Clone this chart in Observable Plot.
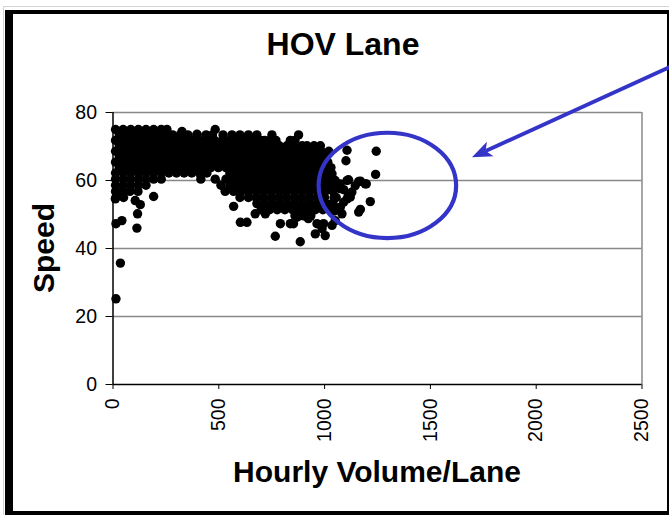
<!DOCTYPE html>
<html>
<head>
<meta charset="utf-8">
<script src="https://cdn.jsdelivr.net/npm/d3@7"></script>
<script src="https://cdn.jsdelivr.net/npm/@observablehq/plot@0.6"></script>
<style>
  html, body { margin: 0; padding: 0; background: #fff; }
  #wrap { position: relative; width: 669px; height: 515px; overflow: hidden; background: #fff; }
  #edge { position: absolute; left: 3px; top: 6px; width: 700px; height: 600px; border-left: 1px solid #d4d4d4; border-top: 1px solid #d4d4d4; }
  #frame { position: absolute; box-sizing: border-box; left: 5px; top: 10px; width: 666px; height: 505px;
           border-left: 8px solid #000; border-top: 4px solid #000; border-right: 4px solid #000; border-bottom: 4px solid #000; }
  #chart { position: absolute; left: 0; top: 0; }
</style>
</head>
<body>
<div id="wrap">
  <div id="edge"></div>
  <div id="frame"></div>
  <div id="chart"></div>
</div>
<script>
// ---- texts ----
const titleText = "HOV Lane";
const xLabel = "Hourly Volume/Lane";
const yLabel = "Speed";

// ---- ticks ----
const xTicks = [0, 500, 1000, 1500, 2000, 2500];
const yTicks = [0, 20, 40, 60, 80];
const yGrid = [20, 40, 60, 80];

// ---- dense core of the scatter: speed rows and the volumes read along each ----
const rowSpeeds = [75.0, 73.4, 71.8, 70.2, 68.6, 67.0, 65.4, 63.8, 62.2, 60.4, 58.6, 56.8, 55.0, 53.2, 51.4, 49.6];
const rowVolumes = [
  [12, 48, 84, 120, 156, 192, 228, 255, 483],
  [30, 66, 102, 138, 174, 210, 246, 282, 318, 354, 397, 440, 470, 520, 562, 600, 640, 680, 751, 877],
  [12, 48, 84, 120, 156, 192, 228, 264, 300, 336, 372, 408, 444, 480, 516, 552, 588, 624, 660, 696, 716, 740, 770, 838, 860],
  [30, 66, 102, 138, 174, 210, 246, 282, 318, 354, 390, 426, 462, 498, 534, 570, 606, 642, 678, 714, 750, 786, 822, 858, 894, 917, 950, 980],
  [12, 48, 84, 120, 156, 192, 228, 264, 300, 336, 372, 408, 444, 480, 516, 552, 588, 624, 660, 696, 732, 768, 804, 840, 876, 912, 948, 984, 1020],
  [30, 66, 102, 138, 174, 210, 246, 282, 318, 354, 390, 426, 462, 498, 534, 570, 606, 642, 678, 714, 750, 786, 822, 858, 894, 930, 966, 1002],
  [12, 48, 84, 120, 156, 192, 228, 264, 300, 336, 372, 408, 444, 480, 516, 552, 588, 624, 660, 696, 732, 768, 804, 840, 876, 912, 948, 984, 1015],
  [30, 66, 102, 138, 174, 210, 246, 282, 318, 354, 390, 426, 462, 498, 534, 570, 606, 642, 678, 714, 750, 786, 822, 858, 894, 930, 966, 1002, 1030],
  [12, 48, 84, 120, 156, 192, 228, 264, 300, 336, 372, 408, 444, 552, 588, 624, 660, 696, 732, 768, 804, 840, 876, 912, 948, 984, 1020],
  [12, 48, 84, 120, 156, 192, 228, 415, 483, 534, 570, 606, 642, 678, 714, 750, 786, 822, 858, 894, 930, 966, 1002, 1040],
  [12, 48, 84, 120, 156, 510, 552, 588, 624, 660, 696, 732, 768, 804, 840, 876, 912, 948, 984, 1020, 1050],
  [12, 45, 80, 118, 530, 570, 606, 642, 678, 714, 750, 786, 822, 858, 894, 930, 966, 1002, 1040],
  [14, 50, 600, 640, 676, 712, 748, 784, 820, 856, 892, 928, 964, 1000, 1045],
  [680, 716, 752, 788, 824, 860, 896, 932, 968, 1004, 1040],
  [700, 740, 776, 812, 848, 884, 920, 956, 992, 1030],
  [860, 900, 935]
];

// ---- scattered points [volume, speed] read individually ----
const scattered = [
  [326, 74.4], [397, 73.6],
  [35, 35.7], [14, 25.2], [14, 47.3], [42, 48.2], [113, 46.0], [116, 50.2], [105, 54.1], [129, 52.9], [192, 55.3], [11, 54.6],
  [570, 52.4], [602, 47.7], [633, 47.7], [767, 43.6], [791, 47.3], [838, 47.3], [885, 42.0], [956, 44.3], [988, 45.8],
  [1003, 43.8], [995, 47.3], [964, 47.3], [853, 47.3], [870, 49.2], [923, 48.8], [720, 50.2], [672, 50.2],
  [1244, 68.6], [1106, 68.9], [1101, 65.8], [1241, 61.8], [1113, 60.2], [1106, 60.0], [1161, 59.7], [1169, 59.8],
  [1192, 59.0], [1197, 59.0], [1145, 58.5], [1129, 56.6], [1113, 55.6], [1121, 55.1], [1074, 57.6], [1090, 57.3],
  [1074, 59.0], [1216, 53.8], [1169, 51.5], [1161, 50.7], [1090, 53.6], [1106, 54.6], [1074, 52.1], [1082, 50.2],
  [1035, 46.8], [1050, 48.2], [1035, 62.0], [1050, 60.0], [1040, 57.5], [1055, 55.0], [1030, 53.0], [1045, 51.0]
];

// ---- annotation (data units): ellipse and arrow ----
const ellipseCenter = [1299, 58.4];
const ellipseRadii = [325, 15.5];
const arrowFrom = [2728, 95.9];
const arrowTo = [1699, 66.7];

// build the table
const points = [];
rowSpeeds.forEach((s, i) => rowVolumes[i].forEach(v => points.push({volume: v, speed: s})));
scattered.forEach(([v, s]) => points.push({volume: v, speed: s}));

const FONT = "'Liberation Sans', Arial, Helvetica, sans-serif";

const chart = Plot.plot({
  width: 669,
  height: 515,
  marginLeft: 112.5,
  marginRight: 27.5,
  marginTop: 112,
  marginBottom: 131,
  style: {fontFamily: FONT, fontSize: "19.5px", color: "#000", background: "transparent", overflow: "visible"},
  x: {domain: [0, 2500], ticks: xTicks, tickSize: 5, tickPadding: 9, tickRotate: -90, label: null, tickFormat: d => String(d)},
  y: {domain: [0, 80], ticks: yTicks, tickSize: 7, tickPadding: 9, label: null, tickFormat: d => String(d)},
  marks: [
    Plot.ruleY(yGrid, {stroke: "#888", strokeWidth: 1.5}),
    Plot.ruleX([2500], {y1: 0, y2: 80, stroke: "#888", strokeWidth: 1.5}),
    Plot.ruleX([0], {y1: 0, y2: 80, stroke: "#000", strokeWidth: 1.5}),
    Plot.ruleY([0], {x1: 0, x2: 2500, stroke: "#000", strokeWidth: 1.5}),
    Plot.dot(points, {x: "volume", y: "speed", r: 4.7, fill: "#000", stroke: "none"})
  ]
});

document.getElementById("chart").appendChild(chart);

const sx = chart.scale("x"), sy = chart.scale("y");
const X = v => sx.apply(v), Y = v => sy.apply(v);
const svg = d3.select(chart);
const BLUE = "#3434c8";

// ellipse
const ecx = X(ellipseCenter[0]), ecy = Y(ellipseCenter[1]);
svg.append("ellipse")
  .attr("cx", ecx).attr("cy", ecy)
  .attr("rx", X(ellipseCenter[0] + ellipseRadii[0]) - ecx)
  .attr("ry", Y(ellipseCenter[1] - ellipseRadii[1]) - ecy)
  .attr("fill", "none").attr("stroke", BLUE).attr("stroke-width", 4.2);

// arrow
const x0 = X(arrowFrom[0]), y0 = Y(arrowFrom[1]), x1 = X(arrowTo[0]), y1 = Y(arrowTo[1]);
const len = Math.hypot(x1 - x0, y1 - y0);
const ux = (x1 - x0) / len, uy = (y1 - y0) / len;
const px = -uy, py = ux;
const headLen = 20, headHalf = 8, notch = 15;
const bx = x1 - ux * headLen, by = y1 - uy * headLen;
const nx = x1 - ux * notch, ny = y1 - uy * notch;
svg.append("line")
  .attr("x1", x0).attr("y1", y0).attr("x2", nx).attr("y2", ny)
  .attr("stroke", BLUE).attr("stroke-width", 3.8);
svg.append("polygon")
  .attr("points", [[x1, y1], [bx + px * headHalf, by + py * headHalf], [nx, ny], [bx - px * headHalf, by - py * headHalf]].map(p => p.join(",")).join(" "))
  .attr("fill", BLUE);

// texts
svg.append("text").text(titleText)
  .attr("x", 343).attr("y", 55).attr("text-anchor", "middle")
  .style("font", `bold 32px ${FONT}`).attr("fill", "#000");
svg.append("text").text(xLabel)
  .attr("x", 377).attr("y", 482).attr("text-anchor", "middle")
  .style("font", `bold 30px ${FONT}`).attr("fill", "#000");
svg.append("text").text(yLabel)
  .attr("transform", "translate(53.5,248) rotate(-90)").attr("text-anchor", "middle")
  .style("font", `bold 30px ${FONT}`).attr("fill", "#000");
</script>
</body>
</html>
